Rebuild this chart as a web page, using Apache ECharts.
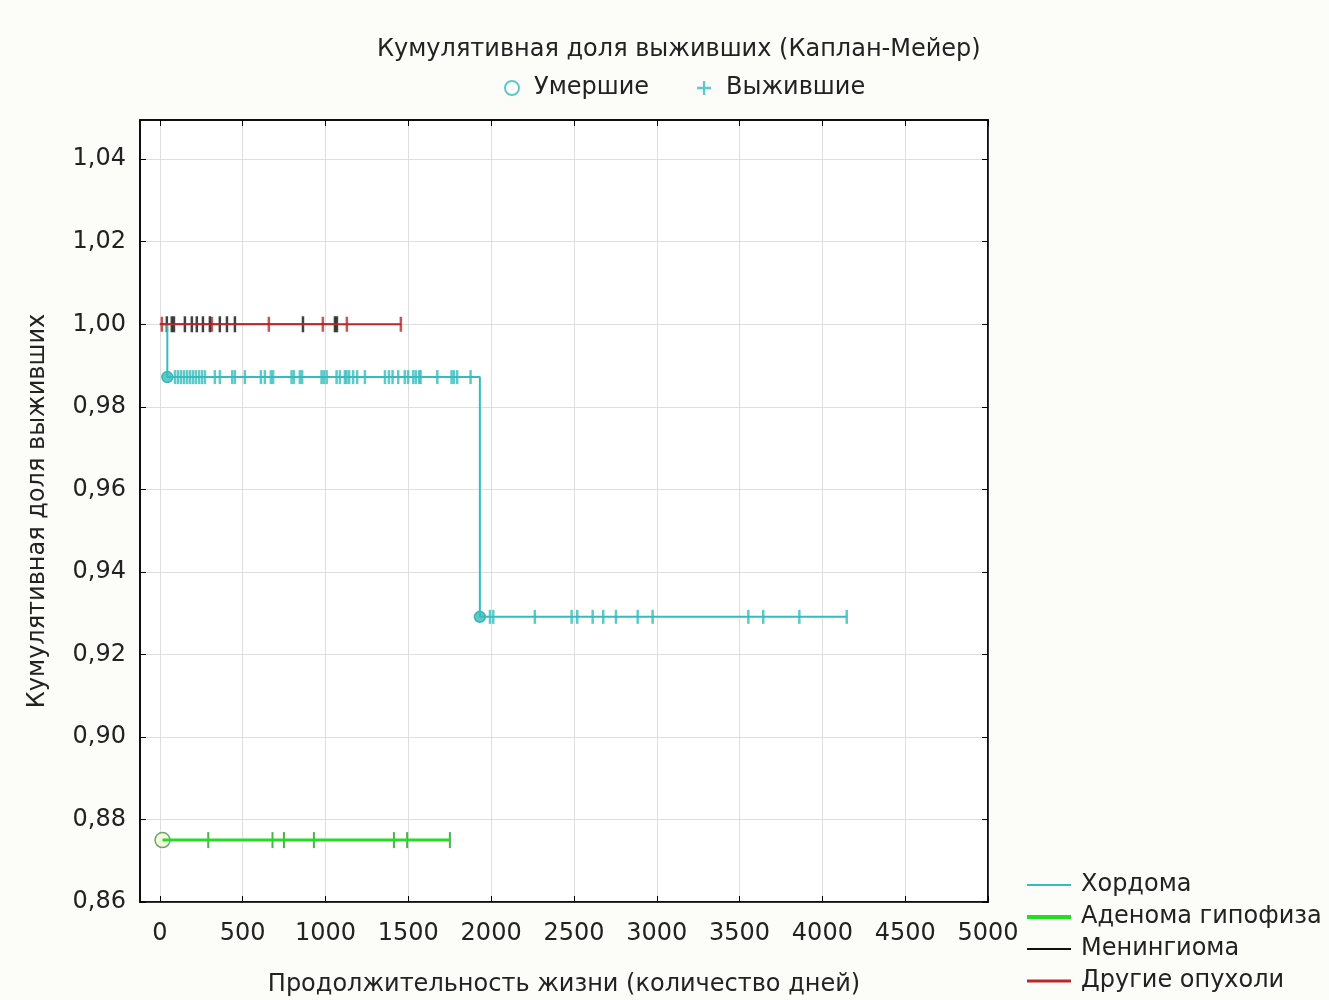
<!DOCTYPE html>
<html>
<head>
<meta charset="utf-8">
<script src="https://cdn.jsdelivr.net/npm/echarts@6/dist/echarts.min.js"></script>
<style>
  html, body { margin: 0; padding: 0; background: #fcfcf9; }
  #chart { width: 1329px; height: 1000px; }
</style>
</head>
<body>
<div id="chart"></div>
<script>
// шкалы
const xTicks = [0, 500, 1000, 1500, 2000, 2500, 3000, 3500, 4000, 4500, 5000];
const yTicks = [0.86, 0.88, 0.90, 0.92, 0.94, 0.96, 0.98, 1.00, 1.02, 1.04];

// Хордома: ступени (день, доля), умершие и выбывшие
const chordomaSteps = [[0, 1.0], [45, 0.9872], [1932, 0.9291], [4147, 0.9291]];
const chordomaDeaths = [45, 1932];
const chordomaCensored = [91, 109, 127, 145, 163, 181, 199, 217, 236, 254, 272, 332, 362, 437, 453,
  513, 610, 634, 670, 684, 795, 809, 845, 859, 976, 990, 1007, 1067, 1087, 1117, 1127, 1143, 1167,
  1191, 1238, 1359, 1383, 1405, 1439, 1479, 1499, 1530, 1546, 1566, 1574, 1675, 1761, 1775, 1795,
  1876, 1993, 2013, 2264, 2486, 2520, 2613, 2677, 2754, 2885, 2975, 3553, 3643, 3861, 4147];

// Аденома гипофиза
const adenomaSteps = [[16, 0.875], [1751, 0.875]];
const adenomaDeaths = [16];
const adenomaCensored = [292, 680, 749, 930, 1413, 1493, 1751];

// Менингиома
const meningiomaSteps = [[0, 1.0], [1069, 1.0]];
const meningiomaCensored = [42, 72, 85, 151, 193, 223, 260, 302, 362, 405, 453, 864, 1057, 1069];

// Другие опухоли
const otherSteps = [[0, 1.0], [1455, 1.0]];
const otherCensored = [12, 314, 658, 984, 1129, 1455];

const cCyan = '#35bcbc';
const cGreen = '#22dd22';
const cBlack = '#111111';
const cRed = '#b8282c';

// доля выживших на момент t по ступеням
function levelAt(steps, t) {
    let v = steps[0][1];
    for (const s of steps) {
        if (s[0] <= t) v = s[1];
    }
    return v;
}
function marks(steps, times) {
    return times.map(t => [t, levelAt(steps, t)]);
}

function lineSeries(name, data, color, width) {
    return {
        name: name,
        type: 'line',
        step: 'end',
        data: data,
        symbol: 'none',
        itemStyle: {color: color},
        lineStyle: {color: color, width: width},
        animation: false
    };
}
function censorSeries(name, data, color, size) {
    return {
        name: name,
        type: 'scatter',
        data: data,
        symbol: 'rect',
        symbolSize: size,
        itemStyle: {color: color},
        animation: false
    };
}

const chart = echarts.init(document.getElementById('chart'));

const option = {
    backgroundColor: '#fcfcf9',
    textStyle: {fontFamily: 'DejaVu Sans'},
    title: {
        text: 'Кумулятивная доля выживших (Каплан-Мейер)',
        left: 372,
        top: 33,
        textStyle: {fontSize: 24, fontWeight: 'normal', color: '#222', fontFamily: 'DejaVu Sans'}
    },
    legend: [
        {
            left: 504,
            top: 76,
            padding: 0,
            itemGap: 48,
            itemWidth: 14,
            itemHeight: 14,
            textStyle: {fontSize: 24, color: '#222', fontFamily: 'DejaVu Sans', padding: [0, 0, 0, 10]},
            data: [
                {name: 'Умершие', icon: 'emptyCircle'},
                {name: 'Выжившие', icon: 'path://M5,0H7V12H5ZM0,5H12V7H0Z'}
            ]
        },
        {
            orient: 'vertical',
            left: 1027,
            top: 873,
            padding: 0,
            itemGap: 8,
            itemWidth: 44,
            itemHeight: 14,
            textStyle: {fontSize: 24, color: '#222', fontFamily: 'DejaVu Sans', padding: [0, 0, 0, 5]},
            data: [
                {name: 'Хордома', icon: 'path://M0,0H44V2H0Z'},
                {name: 'Аденома гипофиза', icon: 'path://M0,0H44V4H0Z'},
                {name: 'Менингиома', icon: 'path://M0,0H44V2H0Z'},
                {name: 'Другие опухоли', icon: 'path://M0,0H44V3H0Z'}
            ]
        }
    ],
    grid: {
        left: 140,
        top: 120,
        width: 848,
        height: 782,
        show: true,
        backgroundColor: '#ffffff',
        borderColor: '#000',
        borderWidth: 1.5,
        outerBoundsMode: 'none'
    },
    xAxis: [
        {
            type: 'value',
            min: -120,
            max: 5000,
            name: 'Продолжительность жизни (количество дней)',
            nameLocation: 'middle',
            nameGap: 71,
            nameTextStyle: {fontSize: 24, color: '#222'},
            axisLine: {show: true, onZero: false, lineStyle: {color: '#000', width: 1.5}},
            axisTick: {show: true, inside: true, length: 6, customValues: xTicks, lineStyle: {color: '#000'}},
            axisLabel: {customValues: xTicks, fontSize: 24, color: '#222', margin: 20, formatter: v => String(v)},
            splitLine: {show: true, lineStyle: {color: '#dedede', width: 1}}
        },
        {
            type: 'value',
            position: 'top',
            min: -120,
            max: 5000,
            axisLine: {show: true, onZero: false, lineStyle: {color: '#000', width: 1.5}},
            axisTick: {show: true, inside: true, length: 6, customValues: xTicks, lineStyle: {color: '#000'}},
            axisLabel: {show: false},
            splitLine: {show: false}
        }
    ],
    yAxis: [
        {
            type: 'value',
            min: 0.86,
            max: 1.0495,
            name: 'Кумулятивная доля выживших',
            nameLocation: 'middle',
            nameGap: 90,
            nameTextStyle: {fontSize: 24, color: '#222'},
            axisLine: {show: true, onZero: false, lineStyle: {color: '#000', width: 1.5}},
            axisTick: {show: true, inside: true, length: 6, customValues: yTicks, lineStyle: {color: '#000'}},
            axisLabel: {
                customValues: yTicks,
                fontSize: 24,
                color: '#222',
                margin: 14,
                formatter: v => v.toFixed(2).replace('.', ',')
            },
            splitLine: {show: true, lineStyle: {color: '#dedede', width: 1}}
        },
        {
            type: 'value',
            position: 'right',
            min: 0.86,
            max: 1.0495,
            axisLine: {show: true, onZero: false, lineStyle: {color: '#000', width: 1.5}},
            axisTick: {show: true, inside: true, length: 6, customValues: yTicks, lineStyle: {color: '#000'}},
            axisLabel: {show: false},
            splitLine: {show: false}
        }
    ],
    series: [
        lineSeries('Хордома', chordomaSteps, cCyan, 2),
        lineSeries('Аденома гипофиза', adenomaSteps, cGreen, 3),
        lineSeries('Менингиома', meningiomaSteps, cBlack, 1.5),
        lineSeries('Другие опухоли', otherSteps, cRed, 2),
        {
            name: 'Умершие',
            type: 'scatter',
            data: marks(chordomaSteps, chordomaDeaths),
            symbol: 'circle',
            symbolSize: 11,
            itemStyle: {color: cCyan, borderColor: '#2aa8a8', borderWidth: 1.5},
            animation: false
        },
        censorSeries('Выжившие', marks(chordomaSteps, chordomaCensored), cCyan, [2.5, 14]),
        {
            name: 'Аденома-умершие',
            type: 'scatter',
            data: marks(adenomaSteps, adenomaDeaths),
            symbol: 'circle',
            symbolSize: 15,
            itemStyle: {color: '#f4f6d8', borderColor: '#4f8f4f', borderWidth: 1.5},
            animation: false
        },
        censorSeries('Аденома-выбывшие', marks(adenomaSteps, adenomaCensored), '#1e9e1e', [2, 16]),
        censorSeries('Другие-выбывшие', marks(otherSteps, otherCensored), cRed, [2.5, 15]),
        censorSeries('Менингиома-выбывшие', marks(meningiomaSteps, meningiomaCensored), cBlack, [2.5, 16])
    ]
};

chart.setOption(option);
</script>
</body>
</html>
